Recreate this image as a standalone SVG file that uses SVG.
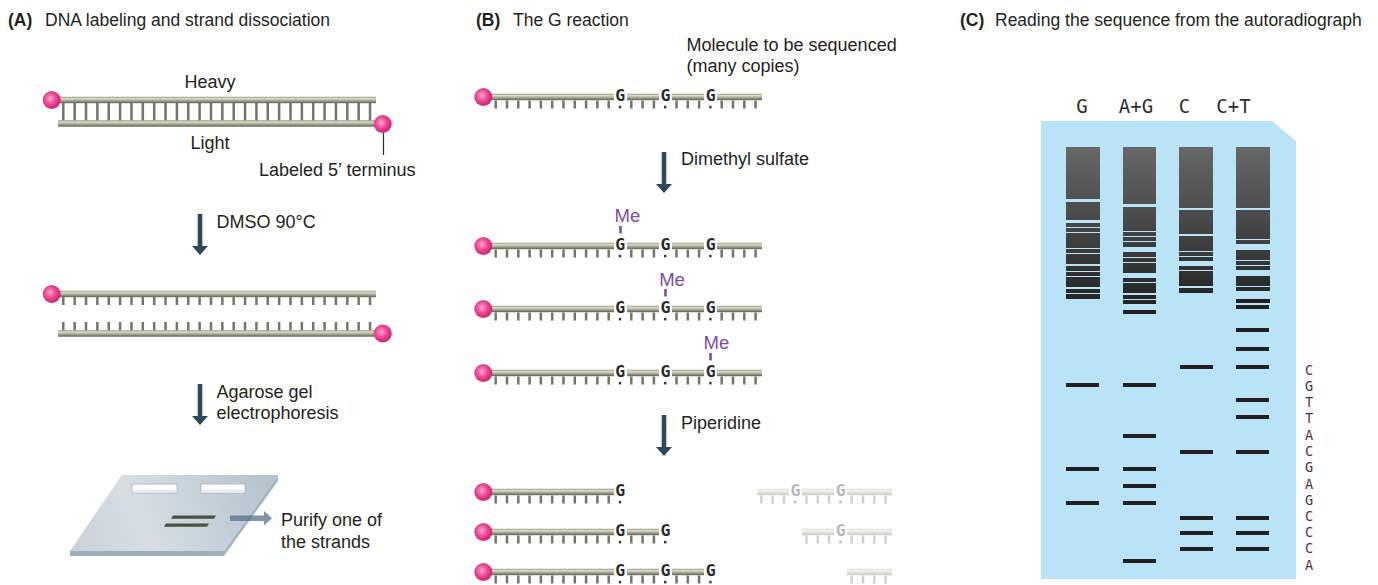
<svg xmlns="http://www.w3.org/2000/svg" width="1378" height="585" viewBox="0 0 1378 585">
<style>
  .tube{fill:url(#tubeGrad)}
  .ticks{stroke:#72766a;stroke-width:8;stroke-dasharray:2.5 8.8;fill:none}
  .ticksA{stroke:#72766a;stroke-dasharray:2.5 8.86;fill:none}
  .lbl{font-family:"Liberation Sans",Arial,sans-serif;font-size:18px;fill:#231f20}
  .title{font-family:"Liberation Sans",Arial,sans-serif;font-size:17.5px;fill:#231f20}
  .bold{font-weight:bold}
  .base{font-family:"DejaVu Sans Mono",monospace;font-weight:bold;font-size:16.5px;fill:#2a2a2a;text-anchor:middle}
  .dot{fill:#3a3a3a}
  .me{font-family:"Liberation Sans",Arial,sans-serif;font-size:18.5px;fill:#7b4ea2}
  .meline{stroke:#7b4ea2;stroke-width:2.6}
  .faded{opacity:0.33}
  .lane{fill:url(#laneGrad)}
  .band{fill:#231f20}
  .lanelbl{font-family:"DejaVu Sans Mono",monospace;font-size:19px;fill:#2e2e2e;text-anchor:middle}
  .seq{font-family:"DejaVu Sans Mono",monospace;font-size:13.5px;fill:#3c3c3c;text-anchor:middle}
  .arrow{fill:#2f4858}
</style>
<defs>
  <radialGradient id="ballGrad" cx="0.42" cy="0.42" r="0.62">
    <stop offset="0" stop-color="#f6a8ca"/>
    <stop offset="0.5" stop-color="#ec4a95"/>
    <stop offset="1" stop-color="#d2166e"/>
  </radialGradient>
  <linearGradient id="tubeGrad" x1="0" y1="0" x2="0" y2="1">
    <stop offset="0" stop-color="#8a8d78"/>
    <stop offset="0.25" stop-color="#dcddcc"/>
    <stop offset="0.55" stop-color="#aeb09c"/>
    <stop offset="1" stop-color="#5e6150"/>
  </linearGradient>
  <linearGradient id="laneGrad" gradientUnits="userSpaceOnUse" x1="0" y1="147" x2="0" y2="315">
    <stop offset="0" stop-color="#686868"/>
    <stop offset="1" stop-color="#1f1f1f"/>
  </linearGradient>
  <linearGradient id="slabGrad" gradientUnits="userSpaceOnUse" x1="70" y1="551" x2="278" y2="475">
    <stop offset="0" stop-color="#c8d2d9"/>
    <stop offset="0.35" stop-color="#d6dee4"/>
    <stop offset="1" stop-color="#b3c1cb"/>
  </linearGradient>

  <!-- labelled 5' end -->
  <g id="ball"><circle r="9" fill="url(#ballGrad)"/></g>

  <!-- single-strand pieces, drawn relative to the strand centre line -->
  <g id="seg1"><rect class="tube" x="489" y="-3.2" width="125" height="6.4"/><line class="ticks" x1="494.45" y1="7.5" x2="610" y2="7.5"/></g>
  <g id="seg2"><rect class="tube" x="627" y="-3.2" width="32" height="6.4"/><line class="ticks" x1="630.05" y1="7.5" x2="655.2" y2="7.5"/></g>
  <g id="seg3"><rect class="tube" x="672" y="-3.2" width="32" height="6.4"/><line class="ticks" x1="675.25" y1="7.5" x2="700.4" y2="7.5"/></g>
  <g id="seg4"><rect class="tube" x="717" y="-3.2" width="45" height="6.4"/><line class="ticks" x1="720.45" y1="7.5" x2="757" y2="7.5"/></g>

  <path id="downArrow" d="M-2.3 0 H2.3 V32 H8 L0 41 L-8 32 H-2.3 Z"/>
</defs>

<rect width="1378" height="585" fill="#ffffff"/>

<!-- ===================== Panel A ===================== -->
<g id="panel-a">
  <text class="title" x="8" y="26"><tspan class="bold">(A)</tspan><tspan x="45">DNA labeling and strand dissociation</tspan></text>

  <g id="duplex">
    <line class="ticksA" x1="62.05" y1="111.75" x2="371.3" y2="111.75" stroke-width="17.5"/>
    <rect class="tube" x="58" y="96.8" width="318" height="6.4"/>
    <rect class="tube" x="58" y="120.3" width="318" height="6.4"/>
    <use href="#ball" x="51.7" y="100"/>
    <use href="#ball" x="382.7" y="124"/>
    <text class="lbl" x="210" y="88" text-anchor="middle">Heavy</text>
    <text class="lbl" x="210" y="149" text-anchor="middle">Light</text>
    <text class="lbl" x="259" y="175.5">Labeled 5’ terminus</text>
  </g>

  <g id="separated-strands">
    <rect class="tube" x="58" y="290.8" width="318" height="6.4"/>
    <line class="ticksA" x1="62.05" y1="301" x2="371.3" y2="301" stroke-width="8"/>
    <line class="ticksA" x1="62.05" y1="326.25" x2="371.3" y2="326.25" stroke-width="8.5"/>
    <rect class="tube" x="58" y="330.3" width="318" height="6.4"/>
    <use href="#ball" x="51.7" y="294"/>
    <use href="#ball" x="382.7" y="333.5"/>
  </g>

  <g id="gel-slab">
    <polygon points="278,475 278,481 224,556 224,551" fill="#a7b6c0"/>
    <rect x="70" y="551" width="154" height="5" fill="#9dafba"/>
    <polygon points="122,475 278,475 224,551 70,551" fill="url(#slabGrad)"/>
    <g id="wells">
      <rect x="132" y="484" width="45" height="9" fill="#ffffff" stroke="#a3b1bb" stroke-width="0.8"/>
      <rect x="132.4" y="489.5" width="44.2" height="3.1" fill="#e6ecef"/>
      <rect x="201" y="484" width="44" height="9" fill="#ffffff" stroke="#a3b1bb" stroke-width="0.8"/>
      <rect x="201.4" y="489.5" width="43.2" height="3.1" fill="#e6ecef"/>
    </g>
    <polygon points="173,515.5 216,515.5 214,518.7 171,518.7" fill="#4b5141"/>
    <polygon points="166,523.5 209,523.5 207,526.7 164,526.7" fill="#4b5141"/>
    <text class="lbl" x="281" y="526">Purify one of</text>
    <text class="lbl" x="281" y="548">the strands</text>
  </g>

  <g id="steps-a">
    <text class="lbl" x="216.5" y="227.5">DMSO 90°C</text>
    <text class="lbl" x="216.5" y="398">Agarose gel</text>
    <text class="lbl" x="216.5" y="419">electrophoresis</text>
  </g>
</g>

<!-- ===================== Panel B ===================== -->
<g id="panel-b">
  <text class="title" x="476" y="26"><tspan class="bold">(B)</tspan><tspan x="513">The G reaction</tspan></text>
  <text class="lbl" x="686.5" y="50.5">Molecule to be sequenced</text>
  <text class="lbl" x="686.5" y="72">(many copies)</text>
  <text class="lbl" x="681" y="165">Dimethyl sulfate</text>
  <text class="lbl" x="681" y="428.5">Piperidine</text>

  <g id="molecule" transform="translate(0,97)">
    <use href="#seg1"/><use href="#seg2"/><use href="#seg3"/><use href="#seg4"/>
    <use href="#ball" x="483.3" y="0"/>
    <text class="base" x="620.3" y="4.2">G</text><text class="base" x="665.5" y="4.2">G</text><text class="base" x="710.7" y="4.2">G</text>
    <rect class="dot" x="618.8" y="8.8" width="2.4" height="2.6"/><rect class="dot" x="664" y="8.8" width="2.4" height="2.6"/><rect class="dot" x="709.2" y="8.8" width="2.4" height="2.6"/>
  </g>

  <g id="methylated-1" transform="translate(0,246)">
    <use href="#seg1"/><use href="#seg2"/><use href="#seg3"/><use href="#seg4"/>
    <use href="#ball" x="483.3" y="0"/>
    <text class="base" x="620.3" y="4.2">G</text><text class="base" x="665.5" y="4.2">G</text><text class="base" x="710.7" y="4.2">G</text>
    <rect class="dot" x="618.8" y="8.8" width="2.4" height="2.6"/><rect class="dot" x="664" y="8.8" width="2.4" height="2.6"/><rect class="dot" x="709.2" y="8.8" width="2.4" height="2.6"/>
    <text class="me" x="614.5" y="-23.8">Me</text>
    <line class="meline" x1="620.5" y1="-20" x2="620.5" y2="-12.6"/>
  </g>

  <g id="methylated-2" transform="translate(0,309)">
    <use href="#seg1"/><use href="#seg2"/><use href="#seg3"/><use href="#seg4"/>
    <use href="#ball" x="483.3" y="0"/>
    <text class="base" x="620.3" y="4.2">G</text><text class="base" x="665.5" y="4.2">G</text><text class="base" x="710.7" y="4.2">G</text>
    <rect class="dot" x="618.8" y="8.8" width="2.4" height="2.6"/><rect class="dot" x="664" y="8.8" width="2.4" height="2.6"/><rect class="dot" x="709.2" y="8.8" width="2.4" height="2.6"/>
    <text class="me" x="659.2" y="-23.5">Me</text>
    <line class="meline" x1="665.5" y1="-20" x2="665.5" y2="-12.6"/>
  </g>

  <g id="methylated-3" transform="translate(0,373)">
    <use href="#seg1"/><use href="#seg2"/><use href="#seg3"/><use href="#seg4"/>
    <use href="#ball" x="483.3" y="0"/>
    <text class="base" x="620.3" y="4.2">G</text><text class="base" x="665.5" y="4.2">G</text><text class="base" x="710.7" y="4.2">G</text>
    <rect class="dot" x="618.8" y="8.8" width="2.4" height="2.6"/><rect class="dot" x="664" y="8.8" width="2.4" height="2.6"/><rect class="dot" x="709.2" y="8.8" width="2.4" height="2.6"/>
    <text class="me" x="703.5" y="-23.7">Me</text>
    <line class="meline" x1="710.5" y1="-20" x2="710.5" y2="-12.6"/>
  </g>

  <g id="fragment-1" transform="translate(0,492)">
    <use href="#seg1"/>
    <use href="#ball" x="483.3" y="0"/>
    <text class="base" x="620.3" y="4.2">G</text>
    <rect class="dot" x="618.8" y="8.8" width="2.4" height="2.6"/>
    <g class="faded" transform="translate(130,0)">
      <use href="#seg2"/><use href="#seg3"/><use href="#seg4"/>
      <text class="base" x="665.5" y="4.2">G</text><text class="base" x="710.7" y="4.2">G</text>
      <rect class="dot" x="664" y="8.8" width="2.4" height="2.6"/><rect class="dot" x="709.2" y="8.8" width="2.4" height="2.6"/>
    </g>
  </g>

  <g id="fragment-2" transform="translate(0,532)">
    <use href="#seg1"/><use href="#seg2"/>
    <use href="#ball" x="483.3" y="0"/>
    <text class="base" x="620.3" y="4.2">G</text><text class="base" x="665.5" y="4.2">G</text>
    <rect class="dot" x="618.8" y="8.8" width="2.4" height="2.6"/><rect class="dot" x="664" y="8.8" width="2.4" height="2.6"/>
    <g class="faded" transform="translate(130,0)">
      <use href="#seg3"/><use href="#seg4"/>
      <text class="base" x="710.7" y="4.2">G</text>
      <rect class="dot" x="709.2" y="8.8" width="2.4" height="2.6"/>
    </g>
  </g>

  <g id="fragment-3" transform="translate(0,572)">
    <use href="#seg1"/><use href="#seg2"/><use href="#seg3"/>
    <use href="#ball" x="483.3" y="0"/>
    <text class="base" x="620.3" y="4.2">G</text><text class="base" x="665.5" y="4.2">G</text><text class="base" x="710.7" y="4.2">G</text>
    <rect class="dot" x="618.8" y="8.8" width="2.4" height="2.6"/><rect class="dot" x="664" y="8.8" width="2.4" height="2.6"/><rect class="dot" x="709.2" y="8.8" width="2.4" height="2.6"/>
    <g class="faded" transform="translate(130,0)">
      <use href="#seg4"/>
    </g>
  </g>
</g>

<!-- ===================== Panel C ===================== -->
<g id="panel-c">
  <text class="title" x="960" y="26"><tspan class="bold">(C)</tspan><tspan x="995">Reading the sequence from the autoradiograph</tspan></text>

  <g id="lane-labels">
    <text class="lanelbl" x="1082" y="112.5">G</text>
    <text class="lanelbl" x="1136" y="112.5">A+G</text>
    <text class="lanelbl" x="1184.5" y="112.5">C</text>
    <text class="lanelbl" x="1233.5" y="112.5">C+T</text>
  </g>

  <g id="autoradiograph">
    <polygon points="1041,121 1272,121 1296,141 1296,579 1041,579" fill="#b9e4f8"/>

    <g id="lane-g">
      <rect class="lane" x="1066" y="147" width="34" height="52"/>
      <rect class="lane" x="1066" y="202" width="34" height="18"/>
      <rect class="lane" x="1066" y="223" width="34" height="4"/>
      <rect class="lane" x="1066" y="228" width="34" height="4"/>
      <rect class="lane" x="1066" y="233" width="34" height="15"/>
      <rect class="lane" x="1066" y="249" width="34" height="4"/>
      <rect class="lane" x="1066" y="254" width="34" height="10"/>
      <rect class="lane" x="1066" y="266" width="34" height="5"/>
      <rect class="lane" x="1066" y="272" width="34" height="4"/>
      <rect class="lane" x="1066" y="277" width="34" height="10"/>
      <rect class="lane" x="1066" y="289" width="34" height="4"/>
      <rect class="lane" x="1066" y="294" width="34" height="5"/>
      <rect class="band" x="1066" y="383" width="33" height="4"/>
      <rect class="band" x="1066" y="467" width="33" height="4"/>
      <rect class="band" x="1066" y="501" width="33" height="4"/>
    </g>

    <g id="lane-ag">
      <rect class="lane" x="1123" y="147" width="33" height="57"/>
      <rect class="lane" x="1123" y="207" width="33" height="24"/>
      <rect class="lane" x="1123" y="232" width="33" height="4"/>
      <rect class="lane" x="1123" y="237" width="33" height="4"/>
      <rect class="lane" x="1123" y="242" width="33" height="5"/>
      <rect class="lane" x="1123" y="252" width="33" height="5"/>
      <rect class="lane" x="1123" y="258" width="33" height="4"/>
      <rect class="lane" x="1123" y="263" width="33" height="10"/>
      <rect class="lane" x="1123" y="278" width="33" height="4"/>
      <rect class="lane" x="1123" y="283" width="33" height="10"/>
      <rect class="lane" x="1123" y="295" width="33" height="4"/>
      <rect class="lane" x="1123" y="300" width="33" height="4"/>
      <rect class="band" x="1123" y="310" width="33" height="4"/>
      <rect class="band" x="1123" y="383" width="33" height="4"/>
      <rect class="band" x="1123" y="434" width="33" height="4"/>
      <rect class="band" x="1123" y="467" width="33" height="4"/>
      <rect class="band" x="1123" y="484" width="33" height="4"/>
      <rect class="band" x="1123" y="501" width="33" height="4"/>
      <rect class="band" x="1123" y="559" width="33" height="4"/>
    </g>

    <g id="lane-c">
      <rect class="lane" x="1179" y="147" width="34" height="61"/>
      <rect class="lane" x="1179" y="210" width="34" height="24"/>
      <rect class="lane" x="1179" y="236" width="34" height="15"/>
      <rect class="lane" x="1179" y="252" width="34" height="4"/>
      <rect class="lane" x="1179" y="257" width="34" height="4"/>
      <rect class="lane" x="1179" y="266" width="34" height="4"/>
      <rect class="lane" x="1179" y="271" width="34" height="15"/>
      <rect class="lane" x="1179" y="288" width="34" height="5"/>
      <rect class="band" x="1180" y="365" width="33" height="4"/>
      <rect class="band" x="1180" y="450" width="33" height="4"/>
      <rect class="band" x="1180" y="516" width="33" height="4"/>
      <rect class="band" x="1180" y="531" width="33" height="4"/>
      <rect class="band" x="1180" y="547" width="33" height="4"/>
    </g>

    <g id="lane-ct">
      <rect class="lane" x="1236" y="147" width="34" height="61"/>
      <rect class="lane" x="1236" y="210" width="34" height="29"/>
      <rect class="lane" x="1236" y="240" width="34" height="4"/>
      <rect class="lane" x="1236" y="250" width="34" height="10"/>
      <rect class="lane" x="1236" y="261" width="34" height="4"/>
      <rect class="lane" x="1236" y="266" width="34" height="4"/>
      <rect class="lane" x="1236" y="276" width="34" height="10"/>
      <rect class="lane" x="1236" y="287" width="34" height="4"/>
      <rect class="band" x="1236" y="299" width="34" height="4"/>
      <rect class="band" x="1236" y="305" width="33" height="4"/>
      <rect class="band" x="1236" y="328" width="33" height="4"/>
      <rect class="band" x="1236" y="347" width="33" height="4"/>
      <rect class="band" x="1236" y="365" width="33" height="4"/>
      <rect class="band" x="1236" y="398" width="33" height="4"/>
      <rect class="band" x="1236" y="415" width="33" height="4"/>
      <rect class="band" x="1236" y="450" width="33" height="4"/>
      <rect class="band" x="1236" y="516" width="33" height="4"/>
      <rect class="band" x="1236" y="531" width="33" height="4"/>
      <rect class="band" x="1236" y="547" width="33" height="4"/>
    </g>
  </g>

  <g id="read-sequence">
    <text class="seq" x="1309" y="375">C</text>
    <text class="seq" x="1309" y="391">G</text>
    <text class="seq" x="1309" y="407">T</text>
    <text class="seq" x="1309" y="423">T</text>
    <text class="seq" x="1309" y="440">A</text>
    <text class="seq" x="1309" y="456">C</text>
    <text class="seq" x="1309" y="472">G</text>
    <text class="seq" x="1309" y="489">A</text>
    <text class="seq" x="1309" y="505">G</text>
    <text class="seq" x="1309" y="521">C</text>
    <text class="seq" x="1309" y="537">C</text>
    <text class="seq" x="1309" y="553">C</text>
    <text class="seq" x="1309" y="570">A</text>
  </g>
</g>

<!-- ===================== Connectors ===================== -->
<g id="connectors">
  <line x1="383.5" y1="133" x2="383.5" y2="155" stroke="#2b2b2b" stroke-width="1.2"/>
  <use href="#downArrow" class="arrow" x="200" y="214"/>
  <use href="#downArrow" class="arrow" x="200" y="384"/>
  <use href="#downArrow" class="arrow" x="664" y="152"/>
  <use href="#downArrow" class="arrow" x="664" y="415"/>
  <path d="M230 515.5 H264 V511 L272 518.3 L264 525.6 V521 H230 Z" fill="#4a6a80" opacity="0.7"/>
</g>
</svg>
